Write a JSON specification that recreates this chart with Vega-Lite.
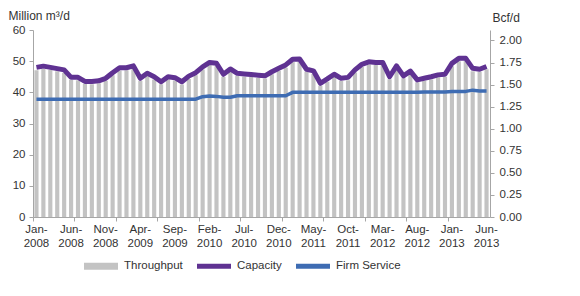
{
"$schema": "https://vega.github.io/schema/vega-lite/v6.json",
"width": 457, "height": 187,
"autosize": "none",
"padding": {"left": 33, "top": 30, "right": 90, "bottom": 79},
"config": {
  "view": {"stroke": null},
  "font": "Liberation Sans",
  "axis": {"labelFont": "Liberation Sans", "labelFontSize": 11.5, "labelColor": "#333333", "titleFont": "Liberation Sans", "titleFontSize": 12, "titleFontWeight": "normal", "titleColor": "#333333", "domainColor": "#a6a6a6", "tickColor": "#a6a6a6", "tickSize": 4, "grid": false, "labelOverlap": false}
},
"data": {"values": [
{"m":"Jan-2008","t":47.1,"c":48.0,"f":37.8},
{"m":"Feb-2008","t":47.5,"c":48.4,"f":37.8},
{"m":"Mar-2008","t":47.2,"c":48.0,"f":37.8},
{"m":"Apr-2008","t":46.8,"c":47.6,"f":37.8},
{"m":"May-2008","t":46.3,"c":47.2,"f":37.8},
{"m":"Jun-2008","t":44.0,"c":44.8,"f":37.8},
{"m":"Jul-2008","t":43.9,"c":44.8,"f":37.8},
{"m":"Aug-2008","t":42.7,"c":43.5,"f":37.8},
{"m":"Sep-2008","t":42.6,"c":43.5,"f":37.8},
{"m":"Oct-2008","t":42.9,"c":43.7,"f":37.8},
{"m":"Nov-2008","t":43.6,"c":44.5,"f":37.8},
{"m":"Dec-2008","t":45.5,"c":46.3,"f":37.8},
{"m":"Jan-2009","t":47.0,"c":47.9,"f":37.8},
{"m":"Feb-2009","t":47.1,"c":47.9,"f":37.8},
{"m":"Mar-2009","t":47.6,"c":48.5,"f":37.8},
{"m":"Apr-2009","t":43.7,"c":44.5,"f":37.8},
{"m":"May-2009","t":45.2,"c":46.1,"f":37.8},
{"m":"Jun-2009","t":44.1,"c":45.0,"f":37.8},
{"m":"Jul-2009","t":42.6,"c":43.4,"f":37.8},
{"m":"Aug-2009","t":44.2,"c":45.0,"f":37.8},
{"m":"Sep-2009","t":43.8,"c":44.7,"f":37.8},
{"m":"Oct-2009","t":42.5,"c":43.4,"f":37.8},
{"m":"Nov-2009","t":44.3,"c":45.2,"f":37.8},
{"m":"Dec-2009","t":45.5,"c":46.3,"f":37.8},
{"m":"Jan-2010","t":47.3,"c":48.2,"f":38.6},
{"m":"Feb-2010","t":48.8,"c":49.6,"f":38.8},
{"m":"Mar-2010","t":48.4,"c":49.3,"f":38.7},
{"m":"Apr-2010","t":45.0,"c":45.8,"f":38.4},
{"m":"May-2010","t":46.6,"c":47.5,"f":38.4},
{"m":"Jun-2010","t":45.3,"c":46.1,"f":38.9},
{"m":"Jul-2010","t":45.0,"c":45.9,"f":38.9},
{"m":"Aug-2010","t":44.9,"c":45.7,"f":38.9},
{"m":"Sep-2010","t":44.6,"c":45.5,"f":38.9},
{"m":"Oct-2010","t":44.4,"c":45.3,"f":38.9},
{"m":"Nov-2010","t":45.8,"c":46.6,"f":38.9},
{"m":"Dec-2010","t":46.9,"c":47.7,"f":38.9},
{"m":"Jan-2011","t":47.9,"c":48.8,"f":38.9},
{"m":"Feb-2011","t":49.7,"c":50.6,"f":40.0},
{"m":"Mar-2011","t":49.8,"c":50.7,"f":40.0},
{"m":"Apr-2011","t":46.6,"c":47.4,"f":40.0},
{"m":"May-2011","t":46.0,"c":46.9,"f":40.0},
{"m":"Jun-2011","t":42.1,"c":42.9,"f":40.0},
{"m":"Jul-2011","t":43.4,"c":44.3,"f":40.0},
{"m":"Aug-2011","t":45.0,"c":45.8,"f":40.0},
{"m":"Sep-2011","t":43.6,"c":44.5,"f":40.0},
{"m":"Oct-2011","t":43.9,"c":44.8,"f":40.0},
{"m":"Nov-2011","t":46.4,"c":47.2,"f":40.0},
{"m":"Dec-2011","t":48.1,"c":49.0,"f":40.0},
{"m":"Jan-2012","t":48.9,"c":49.8,"f":40.0},
{"m":"Feb-2012","t":48.8,"c":49.6,"f":40.0},
{"m":"Mar-2012","t":48.7,"c":49.6,"f":40.0},
{"m":"Apr-2012","t":44.2,"c":45.0,"f":40.0},
{"m":"May-2012","t":47.6,"c":48.5,"f":40.0},
{"m":"Jun-2012","t":44.5,"c":45.3,"f":40.0},
{"m":"Jul-2012","t":45.9,"c":46.8,"f":40.0},
{"m":"Aug-2012","t":43.2,"c":44.0,"f":40.0},
{"m":"Sep-2012","t":43.7,"c":44.5,"f":40.1},
{"m":"Oct-2012","t":44.1,"c":45.0,"f":40.1},
{"m":"Nov-2012","t":44.8,"c":45.6,"f":40.1},
{"m":"Dec-2012","t":45.0,"c":45.8,"f":40.1},
{"m":"Jan-2013","t":48.4,"c":49.3,"f":40.3},
{"m":"Feb-2013","t":50.0,"c":50.9,"f":40.3},
{"m":"Mar-2013","t":50.1,"c":50.9,"f":40.3},
{"m":"Apr-2013","t":46.8,"c":47.7,"f":40.7},
{"m":"May-2013","t":46.6,"c":47.4,"f":40.4},
{"m":"Jun-2013","t":47.4,"c":48.3,"f":40.4}
]},
"layer": [
  {"layer": [
    {"mark": {"type": "bar", "strokeWidth": 0},
     "encoding": {
       "x": {"field": "m", "type": "ordinal", "sort": null,
             "scale": {"type": "band", "paddingInner": 0.4, "paddingOuter": 0.2},
             "axis": {"orient": "bottom", "title": null, "ticks": false, "labelAngle": 0, "labelBaseline": "top", "labelPadding": 6, "labelLineHeight": 14,
                      "values": ["Jan-2008","Jun-2008","Nov-2008","Apr-2009","Sep-2009","Feb-2010","Jul-2010","Dec-2010","May-2011","Oct-2011","Mar-2012","Aug-2012","Jan-2013","Jun-2013"],
                      "labelExpr": "[slice(datum.label,0,4), slice(datum.label,4)]"}},
       "y": {"field": "t", "type": "quantitative", "scale": {"domain": [0, 60], "nice": false},
             "axis": {"orient": "left", "values": [0,10,20,30,40,50,60], "tickCount": 7, "labelOverlap": false, "labelPadding": 4, "title": "Million m³/d", "titleAngle": 0, "titleAlign": "left", "titleBaseline": "middle", "titleX": -25, "titleY": -15}},
       "color": {"datum": "Throughput",
                 "scale": {"domain": ["Throughput", "Capacity", "Firm Service"], "range": ["#c3c3c3", "#5f3292", "#3e6cb3"]},
                 "legend": {"orient": "none", "legendX": 51, "legendY": 219, "direction": "horizontal", "title": null,
                            "symbolType": "M-1,-0.2H1V0.2H-1Z", "symbolSize": 1156, "symbolStrokeWidth": 0,
                            "labelOffset": 6, "columnPadding": 14, "padding": 0, "labelFont": "Liberation Sans", "labelFontSize": 11.5, "labelColor": "#333333",
                            "encode": {"symbols": {"update": {
                               "shape": {"signal": "datum.value === 'Throughput' ? 'M-1,-0.2H1V0.2H-1Z' : 'M-1,-0.14H1V0.14H-1Z'"},
                               "fill": {"signal": "scale('color', datum.value)"},
                               "fillOpacity": {"value": 1},
                               "strokeWidth": {"value": 0}}}}}}
     }},
    {"mark": {"type": "line", "strokeWidth": 5, "strokeJoin": "round"},
     "encoding": {
       "x": {"field": "m", "type": "ordinal", "sort": null, "scale": {"type": "band", "paddingInner": 0.4, "paddingOuter": 0.2}},
       "y": {"field": "c", "type": "quantitative",
             "axis": {"orient": "left", "values": [0,10,20,30,40,50,60], "tickCount": 7, "labelOverlap": false, "labelPadding": 4, "title": "Million m³/d", "titleAngle": 0, "titleAlign": "left", "titleBaseline": "middle", "titleX": -25, "titleY": -15}},
       "color": {"datum": "Capacity"}
     }},
    {"mark": {"type": "line", "strokeWidth": 3.5, "strokeJoin": "round"},
     "encoding": {
       "x": {"field": "m", "type": "ordinal", "sort": null, "scale": {"type": "band", "paddingInner": 0.4, "paddingOuter": 0.2}},
       "y": {"field": "f", "type": "quantitative",
             "axis": {"orient": "left", "values": [0,10,20,30,40,50,60], "tickCount": 7, "labelOverlap": false, "labelPadding": 4, "title": "Million m³/d", "titleAngle": 0, "titleAlign": "left", "titleBaseline": "middle", "titleX": -25, "titleY": -15}},
       "color": {"datum": "Firm Service"}
     }}
  ]},
  {"mark": {"type": "point", "opacity": 0},
   "encoding": {
     "x": {"field": "m", "type": "ordinal", "sort": null,
           "scale": {"type": "band", "paddingInner": 0.4, "paddingOuter": 0.2},
           "axis": {"orient": "bottom", "title": null, "labels": false, "domain": false, "bandPosition": -0.3333,
                    "values": ["Jan-2008","Jul-2008","Jan-2009","Jul-2009","Jan-2010","Jul-2010","Jan-2011","Jul-2011","Jan-2012","Jul-2012","Jan-2013"]}},
     "y": {"datum": 0, "type": "quantitative", "scale": {"domain": [0, 2.1189], "nice": false},
           "axis": {"orient": "right", "values": [0,0.25,0.5,0.75,1,1.25,1.5,1.75,2], "format": ".2f", "labelPadding": 5,
                    "title": "Bcf/d", "titleAngle": 0, "titleAlign": "left", "titleBaseline": "middle", "titleX": 2, "titleY": -13}}
   }}
],
"resolve": {"scale": {"y": "independent"}, "axis": {"y": "independent", "x": "independent"}}
}
